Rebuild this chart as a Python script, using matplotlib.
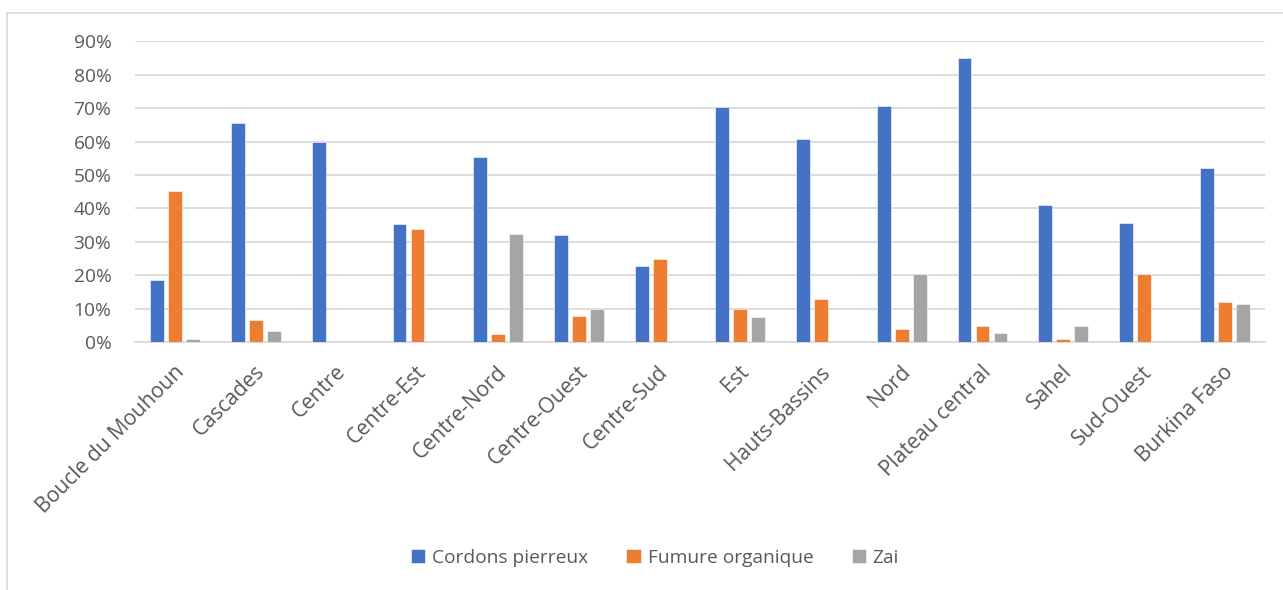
import matplotlib
matplotlib.use("Agg")
import matplotlib.pyplot as plt
import matplotlib.transforms as mtransforms
import numpy as np
from matplotlib.patches import Rectangle

categories = ["Boucle du Mouhoun", "Cascades", "Centre", "Centre-Est", "Centre-Nord",
              "Centre-Ouest", "Centre-Sud", "Est", "Hauts-Bassins", "Nord",
              "Plateau central", "Sahel", "Sud-Ouest", "Burkina Faso"]
cordons = [18.5, 65.4, 60.0, 35.3, 55.4, 31.9, 22.8, 70.2, 60.8, 70.5, 85.0, 41.1, 35.5, 52.0]
fumure = [45.3, 6.7, 0.0, 33.7, 2.4, 7.9, 24.7, 9.9, 13.0, 3.8, 4.9, 0.8, 20.3, 12.1]
zai = [0.8, 3.3, 0.0, 0.0, 32.3, 10.0, 0.0, 7.6, 0.0, 20.5, 2.7, 4.8, 0.0, 11.3]
series_names = ["Cordons pierreux", "Fumure organique", "Zai"]
colors = ["#4472C4", "#ED7D31", "#A5A5A5"]
yticks = [0, 10, 20, 30, 40, 50, 60, 70, 80, 90]

plt.rcParams['font.family'] = ['Open Sans', 'DejaVu Sans']
W, H = 1283, 590
FS = 13.8
FSX = 15.2
fig = plt.figure(figsize=(W/100, H/100), dpi=100)
fig.patch.set_facecolor("white")

# outer chart frame
fig.patches.append(Rectangle((7/W, -0.05), 1.1, (H-13)/H + 0.05, transform=fig.transFigure,
                             fill=False, edgecolor="#d9d9d9", linewidth=1.2))

ax = fig.add_axes([135/W, (H-342)/H, (1265-135)/W, (342-41.3)/H])
x = np.arange(len(categories))
bw = 0.173
off = 0.223
for i, (vals, name, c) in enumerate(zip([cordons, fumure, zai], series_names, colors)):
    ax.bar(x + (i-1)*off, vals, width=bw, color=c, label=name, zorder=3,
           edgecolor="white", linewidth=0.4)

ax.set_xlim(-0.5, len(categories)-0.5)
ax.set_ylim(0, 90)
ax.set_yticks(yticks)
ax.set_yticklabels([f"{v}%" for v in yticks], fontsize=FS, color="#595959")
ax.yaxis.grid(True, color="#d9d9d9", linewidth=1.3, zorder=0)
ax.set_axisbelow(True)
for s in ["top", "right", "left"]:
    ax.spines[s].set_visible(False)
ax.spines["bottom"].set_color("#d9d9d9")
ax.spines["bottom"].set_linewidth(1.3)
ax.tick_params(axis="both", length=0)
ax.tick_params(axis="y", pad=17)
ax.set_xticks(x)
ax.set_xticklabels(categories, rotation=45, ha="right", va="top", rotation_mode="anchor",
                   fontsize=FSX, color="#595959")
ax.tick_params(axis="x", pad=14)
shift = mtransforms.ScaledTranslation(-2/100, 0, fig.dpi_scale_trans)
for lbl in ax.get_xticklabels():
    lbl.set_transform(lbl.get_transform() + shift)

handles, labels = ax.get_legend_handles_labels()
leg = fig.legend(handles, labels, loc="center", bbox_to_anchor=(655/W, (H-558)/H), ncol=3,
                 frameon=False, fontsize=FS, handlelength=0.75, handleheight=0.75,
                 columnspacing=2.0, handletextpad=0.35)
for t in leg.get_texts():
    t.set_color("#595959")

fig.savefig("out.png", dpi=100)
